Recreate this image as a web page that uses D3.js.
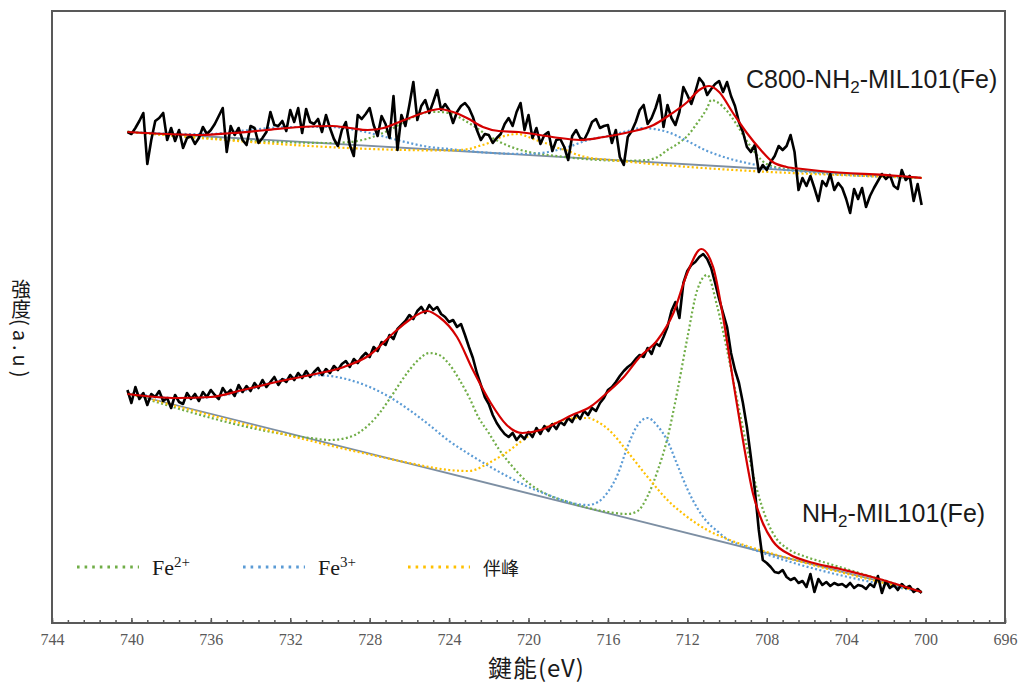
<!DOCTYPE html>
<html>
<head>
<meta charset="utf-8">
<script src="https://cdn.jsdelivr.net/npm/d3@7/dist/d3.min.js"></script>
<style>
body{margin:0;background:#fff;}
</style>
</head>
<body>
<div id="chart"></div>
<script>
// binding energy scan (eV); intensity in a.u.
var scanStart = 740.2, scanStep = 0.2;
var rawBottom = [
 233,220,236,224,230,218,229,226,232,222,
 225,215,228,221,219,230,224,229,222,231,
 226,233,228,224,235,229,233,227,238,231,
 237,232,240,235,243,236,241,246,238,244,
 241,248,243,250,245,252,246,251,255,248,
 254,250,257,253,259,262,256,264,260,266,
 270,266,276,272,281,278,288,284,294,298,
 302,308,304,312,316,310,318,313,316,309,
 306,301,303,296,299,288,276,265,250,238,
 226,219,208,200,194,189,186,190,183,188,
 184,191,186,195,189,197,192,199,194,201,
 198,205,201,209,204,212,208,215,212,220,
 225,233,236,241,247,252,256,259,264,268,
 266,275,269,280,277,286,296,312,321,305,
 340,352,358,361,366,369,364,355,340,324,
 310,296,270,253,240,220,196,166,133,93,
 63,60,56,51,50,53,46,43,45,40,
 42,36,49,31,44,38,41,37,40,38,
 39,36,40,35,38,37,34,39,36,47,
 30,42,35,38,33,39,35,37,31,34,
 30];
var rawTop = [
 491,489,495,502,510,459,483,502,505,510,
 483,495,482,493,475,485,487,479,485,496,
 489,493,499,507,515,471,497,488,495,483,
 478,497,495,480,485,491,511,498,497,502,
 492,513,501,515,490,514,501,499,504,491,
 508,495,484,477,493,501,478,467,508,504,
 509,515,498,487,507,499,485,527,473,508,
 497,518,541,503,517,523,510,521,533,513,
 519,513,500,511,517,520,515,506,493,483,
 489,488,480,485,489,499,505,497,511,520,
 493,508,485,495,479,488,491,472,483,484,
 476,463,487,493,485,483,491,501,504,495,
 497,498,480,493,466,458,486,492,501,513,
 518,499,505,515,528,496,518,505,498,511,
 536,528,519,531,545,540,528,534,539,542,
 531,541,527,517,501,491,476,471,478,451,
 458,453,461,467,477,473,477,488,471,433,
 445,437,447,435,422,442,437,449,433,440,
 435,424,410,434,424,435,416,427,435,442,
 449,444,448,437,434,453,443,447,422,439,
 418];

// fitted envelope
var fitBottom = [[740.2,229],[737.7,225],[736.0,226],[734.4,233],[732.7,241],[731.0,248],[729.3,256],[728.0,268],
 [726.8,290],[726.0,303],[725.1,312],[724.5,306],[723.6,286],[722.8,253],[721.9,220],[721.1,198],[720.3,190],
 [719.4,193],[718.6,200],[717.8,208],[716.9,216],[716.0,231],[715.2,246],[714.4,266],[713.5,283],[712.7,310],
 [712.0,350],[711.3,374],[710.7,356],[710.2,306],[709.7,243],[709.2,183],[708.7,130],[708.2,100],[707.7,82],
 [706.8,68],[706.0,62],[704.3,54],[702.7,46],[700.2,31]];
var fitTop = [[740.2,491],[738.2,489],[736.5,488],[734.9,490],[733.2,493],[731.5,496],[729.9,497],[729.0,495],
 [728.1,493],[727.3,495],[726.5,501],[725.6,508],[724.8,513],[724.5,514],[723.8,511],[723.1,505],[722.3,496],
 [721.5,492],[720.5,491],[718.8,486],[717.4,483],[716.2,486],[714.9,491],[713.7,498],[712.9,508],[712.0,521],
 [711.4,533],[710.9,537],[710.4,531],[709.7,510],[709.0,490],[708.3,473],[707.7,461],[707.0,456],[706.2,454],
 [705.3,452],[701.3,447],[700.2,445]];

// background lines
var baseBottom = [[740.2,230],[700.2,31.3]];
var baseTop = [[740.2,491.2],[700.2,445.1]];

// Fe2+ components
var fe2Bottom = [[740.2,230],[731,185],[730,183],[729,186],[728,199],[727.5,210],[727,224],[726.5,239],[726,253],
 [725.5,264],[725,270],[724.5,268],[724,259],[723.5,244],[723,226],[722.5,205],[722,190],[721.5,174],[721,161],
 [720,140],[719,128],[718,121],[716,111],[715,109],[714.5,112],[714,127],[713.5,152],[713,185],[712.5,232],
 [712,285],[711.5,333],[711,348],[710.5,317],[710,273],[709.5,224],[709,176],[708.5,134],[708,103],[707.5,84],
 [707,75],[706,66],[705,60],[704,54],[703,48],[702,42],[700.2,31]];
var fe2Top = [[740.2,491.2],[730,480],[729,481],[728,485],[727,493],[726,504],[725,511],[724.5,511],[724,510],
 [723,500],[722,487],[721,477],[720,471],[719,468],[715,462.2],[714,463],[713.5,466],[713,473],[712.5,479],
 [712,487],[711.5,500],[711,515],[710.8,523],[710.5,521],[710,512],[709.5,498],[709,482],[708.5,468],[708,459],
 [707,454],[700.2,445.1]];

// Fe3+ components
var fe3Bottom = [[740.2,230],[739,227],[738,225],[737,225],[736,226],[735,229],[734,234],[733,240],[732,245],
 [731,248],[730,247],[729,243],[728,236],[727,226],[726,213],[725,198],[724,182],[723,169],[722,157],[721,146],
 [720,136],[719,128],[718,121],[717,118],[716.5,121],[716,131],[715.5,149],[715,177],[714.5,198],[714,205],
 [713.5,197],[713,182],[712.5,158],[712,134],[711.5,115],[711,101],[710.5,92],[710,84],[709,76],[700.2,31]];
var fe3Top = [[740.2,491.2],[737,489],[736,489],[735,491],[734,493],[733,495],[732,496],[731,496],[730,496],
 [729,494],[728,490],[727,485],[726,480],[725,476],[724,474],[722,470.2],[720,469],[719,471],[718,476],[717,483],
 [716,487],[715,492],[714.3,495],[713,491],[712,482],[711,472],[710,465],[709,460],[708,456],[707,453],[700.2,445.1]];

// satellite components
var satBottom = [[740.2,230],[726,160],[725,156],[724,153],[723,152],[722,160],[721,172],[720,187],[719,197],
 [718,204],[717.5,205],[717,205],[716.5,201],[716,194],[715,171],[714,146],[713,123],[712,106],[711,93],[710,84],
 [709,77],[708,71],[700.2,31]];
var satTop = [[740.2,491.2],[724,472.5],[723,474],[722.5,477],[722,480],[721.5,485],[721,488],[720.5,489],[720,486],
 [719.5,482],[719,479],[718.5,475],[718,472],[717.5,468],[717,465.5],[716,463.3],[700.2,445.1]];

var xTicks = [744,740,736,732,728,724,720,716,712,708,704,700,696];
var xMinorStep = 0.8;
var legendNames = ["Fe","Fe","伴峰"];
var legendSup = ["2+","3+",""];
var compColors = ["#70ad47","#5b9bd5","#ffc000"];

var width = 1026, height = 687;
var svg = d3.select("#chart").append("svg")
    .attr("width",width)
    .attr("height",height);

var x = d3.scaleLinear().domain([744,696]).range([52,1005]);
var y = d3.scaleLinear().domain([0,612]).range([623,11]);

// frame
svg.append("rect")
    .attr("x",52).attr("y",11)
    .attr("width",953).attr("height",612)
    .attr("fill","none")
    .attr("stroke","#595959")
    .attr("stroke-width",2);

// minor ticks
var minorAxis = svg.append("g")
    .attr("transform","translate(0,623)")
    .call(d3.axisBottom(x).tickValues(d3.range(744,695.9,-xMinorStep)).tickSize(-3).tickFormat(""));
minorAxis.select(".domain").remove();
minorAxis.selectAll("line").attr("stroke","#595959").attr("stroke-width",1.5);

var majorAxis = svg.append("g")
    .attr("transform","translate(0,623)")
    .call(d3.axisBottom(x).tickValues(xTicks).tickSize(-5).tickPadding(11).tickFormat(d3.format("d")))
    .attr("font-family","'Liberation Serif', 'DejaVu Serif', serif")
    .attr("font-size",16);
majorAxis.select(".domain").remove();
majorAxis.selectAll("line").attr("stroke","#595959").attr("stroke-width",1.5);
majorAxis.selectAll("text")
    .attr("fill","#595959")
    .style("font-family","'Liberation Serif', 'DejaVu Serif', serif")
    .style("font-size","16px");

var smooth = d3.line().x(d=>x(d[0])).y(d=>y(d[1])).curve(d3.curveMonotoneX);
var straight = d3.line().x(d=>x(d[0])).y(d=>y(d[1]));

function drawSpectrum(raw, fit, base, comps){
    var g = svg.append("g");
    g.append("path").attr("d",straight(base))
        .attr("fill","none").attr("stroke","#7d8fa3").attr("stroke-width",1.8);
    comps.forEach(function(c,i){
        g.append("path").attr("d",smooth(c))
            .attr("fill","none")
            .attr("stroke",compColors[i])
            .attr("stroke-width",2.2)
            .attr("stroke-dasharray","2,2.4");
    });
    var pts = raw.map((v,i)=>[scanStart - i*scanStep, v]);
    g.append("path").attr("d",straight(pts))
        .attr("fill","none").attr("stroke","#000")
        .attr("stroke-width",2.6).attr("stroke-linejoin","round");
    g.append("path").attr("d",smooth(fit))
        .attr("fill","none").attr("stroke","#d40000").attr("stroke-width",2.2);
}
drawSpectrum(rawTop, fitTop, baseTop, [fe2Top, fe3Top, satTop]);
drawSpectrum(rawBottom, fitBottom, baseBottom, [fe2Bottom, fe3Bottom, satBottom]);

// sample names
function sampleLabel(px, py, pre){
    var t = svg.append("text")
        .attr("x",px).attr("y",py)
        .attr("font-family","'Liberation Sans', Arial, sans-serif")
        .attr("font-size",25)
        .attr("fill","#1a1a1a");
    t.append("tspan").text(pre + "NH");
    t.append("tspan").attr("font-size",17).attr("dy",5).text("2");
    t.append("tspan").attr("dy",-5).text("-MIL101(Fe)");
}
sampleLabel(746, 88, "C800-");
sampleLabel(802, 522, "");

// axis titles
svg.append("text")
    .attr("x",488).attr("y",677)
    .attr("font-family","'Noto Sans CJK TC', sans-serif")
    .attr("font-size",24)
    .attr("letter-spacing",1)
    .attr("fill","#1a1a1a")
    .text("鍵能(eV)");

var yt = svg.append("text")
    .attr("x",21).attr("y",279)
    .attr("writing-mode","vertical-rl")
    .attr("font-family","'Noto Sans CJK TC', sans-serif")
    .attr("font-size",20)
    .attr("fill","#1a1a1a");
yt.append("tspan").text("強度");
yt.append("tspan").attr("letter-spacing",4).text("(a.u)");

// legend
var legendX = [77,243,408];
var legend = svg.append("g");
legendNames.forEach(function(name,i){
    legend.append("line")
        .attr("x1",legendX[i]).attr("x2",legendX[i]+62)
        .attr("y1",567).attr("y2",567)
        .attr("stroke",compColors[i])
        .attr("stroke-width",2.8)
        .attr("stroke-dasharray","2.6,5");
    var t = legend.append("text")
        .attr("x",legendX[i]+75).attr("y",575)
        .attr("fill","#1a1a1a");
    if(legendSup[i]){
        t.attr("font-family","'Liberation Serif', serif").attr("font-size",22);
        t.append("tspan").text(name);
        t.append("tspan").attr("font-size",15).attr("dy",-8).text(legendSup[i]);
    } else {
        t.attr("font-family","'Noto Sans CJK TC', sans-serif").attr("font-size",18).text(name);
    }
});
</script>
</body>
</html>
